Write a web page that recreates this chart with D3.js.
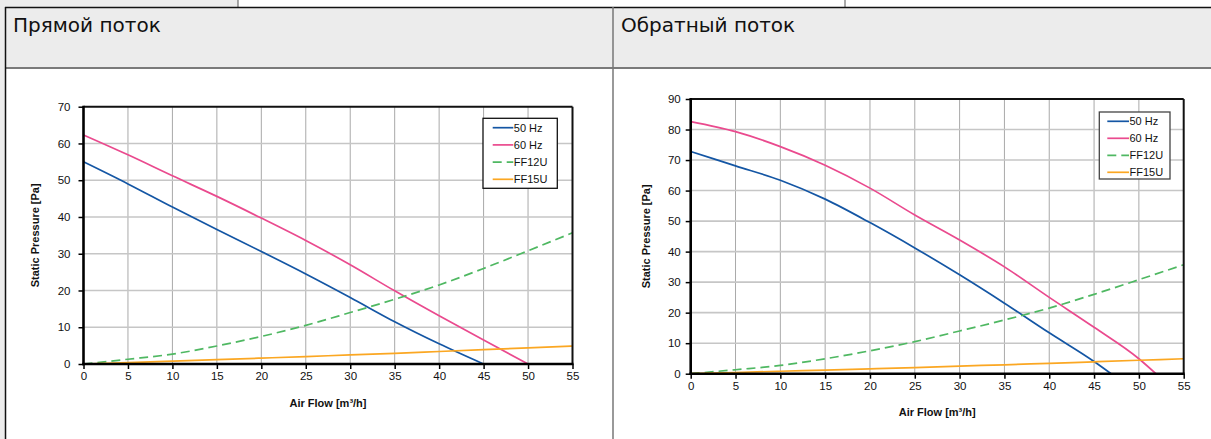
<!DOCTYPE html>
<html>
<head>
<meta charset="utf-8">
<script src="https://cdn.jsdelivr.net/npm/d3@7"></script>
<style>
  html, body { margin: 0; padding: 0; background: #fff; }
  svg { display: block; }
  .chart-text { font-family: "Liberation Sans", Arial, sans-serif; fill: #111; }
  .head-text { font-family: "DejaVu Sans", Tahoma, sans-serif; fill: #111; }
</style>
</head>
<body>
<svg id="page" width="1211" height="439"></svg>
<script>
// ---- data --------------------------------------------------------------
const panelTitles = ["Прямой поток", "Обратный поток"];
const seriesNames = ["50 Hz", "60 Hz", "FF12U", "FF15U"];
const flowTicks = [0, 5, 10, 15, 20, 25, 30, 35, 40, 45, 50, 55];
const pressureTicksForward = [0, 10, 20, 30, 40, 50, 60, 70];
const pressureTicksReverse = [0, 10, 20, 30, 40, 50, 60, 70, 80, 90];

// forward flow fan curves
const fwdFlow50 = [0, 5, 10, 15, 20, 25, 30, 35, 40, 45];
const fwdPres50 = [55, 49, 42.7, 36.6, 30.6, 24.5, 18.1, 11.5, 5.5, 0];
const fwdFlow60 = [0, 5, 10, 15, 20, 25, 30, 35, 40, 45, 50];
const fwdPres60 = [62.3, 56.9, 51.2, 45.6, 39.7, 33.6, 27.0, 19.9, 13.1, 6.5, 0];

// reverse flow fan curves
const revFlow50 = [0, 5, 10, 15, 20, 25, 30, 35, 40, 45, 46.9];
const revPres50 = [72.8, 68.1, 63.4, 57.2, 49.5, 41.2, 32.4, 23.1, 13.4, 4.0, 0];
const revFlow60 = [0, 5, 10, 15, 20, 25, 30, 35, 40, 45, 50, 51.9];
const revPres60 = [82.6, 79.3, 74.4, 68.3, 60.8, 52.0, 43.8, 35.0, 25.0, 15.2, 4.9, 0];

// filter resistance curves (same on both panels)
const filterFlow = [0, 5, 10, 15, 20, 25, 30, 35, 40, 45, 50, 55];
const ff12uPres = [0, 1.3, 2.7, 4.9, 7.5, 10.5, 14.0, 17.6, 21.5, 26.0, 30.8, 35.7];
const ff15uPres = [0, 0.4, 0.8, 1.2, 1.6, 2.0, 2.5, 2.9, 3.4, 3.9, 4.4, 4.9];

// ---- styles ------------------------------------------------------------
const seriesStyle = [
  { color: "#1456a4", dash: null },
  { color: "#ea4a8e", dash: null },
  { color: "#4fb862", dash: "9,5" },
  { color: "#fba722", dash: null }
];

const svg = d3.select("#page");

// ---- page frame (table around the two charts) ---------------------------
svg.append("rect").attr("x", 0).attr("y", 0).attr("width", 238).attr("height", 7).attr("fill", "#ececec");
svg.append("rect").attr("x", 0).attr("y", 0).attr("width", 5).attr("height", 439).attr("fill", "#ececec");
svg.append("rect").attr("x", 5).attr("y", 7).attr("width", 1206).attr("height", 61).attr("fill", "#ececec");
svg.append("line").attr("x1", 238).attr("x2", 238).attr("y1", 0).attr("y2", 7).attr("stroke", "#555").attr("stroke-width", 1);
svg.append("line").attr("x1", 845).attr("x2", 845).attr("y1", 0).attr("y2", 7).attr("stroke", "#555").attr("stroke-width", 1);
svg.append("line").attr("x1", 5).attr("x2", 1211).attr("y1", 7.5).attr("y2", 7.5).attr("stroke", "#111").attr("stroke-width", 1.5);
svg.append("line").attr("x1", 5).attr("x2", 1211).attr("y1", 68).attr("y2", 68).attr("stroke", "#7a7a7a").attr("stroke-width", 2);
svg.append("line").attr("x1", 5.5).attr("x2", 5.5).attr("y1", 7).attr("y2", 439).attr("stroke", "#111").attr("stroke-width", 1.5);
svg.append("line").attr("x1", 613).attr("x2", 613).attr("y1", 7).attr("y2", 439).attr("stroke", "#777").attr("stroke-width", 1.5);

svg.append("text").attr("class", "head-text").attr("x", 13).attr("y", 32)
  .attr("font-size", 20).text(panelTitles[0]);
svg.append("text").attr("class", "head-text").attr("x", 621).attr("y", 32)
  .attr("font-size", 20).text(panelTitles[1]);

// ---- chart drawing -----------------------------------------------------
function drawChart(cfg, curves, yTicks) {
  const g = svg.append("g");
  const x = d3.scaleLinear().domain([0, 55]).range([cfg.left, cfg.right]);
  const y = d3.scaleLinear().domain([0, yTicks[yTicks.length - 1]]).range([cfg.bottom, cfg.top]);

  // grid
  g.append("g").selectAll("line").data(flowTicks.slice(1, -1)).join("line")
    .attr("x1", d => x(d)).attr("x2", d => x(d))
    .attr("y1", cfg.top).attr("y2", cfg.bottom)
    .attr("stroke", "#a9a9a9").attr("stroke-width", 1);
  g.append("g").selectAll("line").data(yTicks.slice(1, -1)).join("line")
    .attr("x1", cfg.left).attr("x2", cfg.right)
    .attr("y1", d => y(d)).attr("y2", d => y(d))
    .attr("stroke", "#c6c6c6").attr("stroke-width", 1.6);

  // curves
  const line = d3.line().x(d => x(d[0])).y(d => y(d[1])).curve(d3.curveMonotoneX);
  curves.forEach((c, i) => {
    const pts = c.flow.map((f, k) => [f, c.pres[k]]);
    g.append("path").datum(pts).attr("d", line)
      .attr("fill", "none")
      .attr("stroke", seriesStyle[i].color)
      .attr("stroke-width", 1.7)
      .attr("stroke-dasharray", seriesStyle[i].dash);
  });

  // frame
  g.append("line").attr("x1", cfg.left).attr("x2", cfg.right).attr("y1", cfg.top).attr("y2", cfg.top)
    .attr("stroke", "#111").attr("stroke-width", 2);
  g.append("line").attr("x1", cfg.right).attr("x2", cfg.right).attr("y1", cfg.top).attr("y2", cfg.bottom)
    .attr("stroke", "#111").attr("stroke-width", 2);

  // axes
  const xAxis = d3.axisBottom(x).tickValues(flowTicks).tickSize(5).tickSizeOuter(0).tickPadding(3);
  const yAxis = d3.axisLeft(y).tickValues(yTicks).tickSize(5).tickSizeOuter(0).tickPadding(cfg.yPad);
  const gx = g.append("g").attr("transform", `translate(0,${cfg.bottom})`).call(xAxis);
  const gy = g.append("g").attr("transform", `translate(${cfg.left},0)`).call(yAxis);
  [gx, gy].forEach(ax => {
    ax.select(".domain").attr("stroke", "#000").attr("stroke-width", 2.6);
    ax.selectAll(".tick line").attr("stroke", "#000").attr("stroke-width", 1.5);
    ax.selectAll(".tick text").attr("class", "chart-text")
      .attr("font-size", 11.5).attr("fill", "#111");
  });
  gx.select(".domain").attr("d", `M${cfg.left - 1.3},0H${cfg.right + 1}`);
  gy.select(".domain").attr("d", `M0,${cfg.bottom + 1.3}V${cfg.top - 1}`);

  // axis titles
  g.append("text").attr("class", "chart-text")
    .attr("x", (cfg.left + cfg.right) / 2).attr("y", cfg.xTitleY)
    .attr("text-anchor", "middle").attr("font-size", 11).attr("font-weight", "bold")
    .text("Air Flow [m³/h]");
  g.append("text").attr("class", "chart-text")
    .attr("transform", `translate(${cfg.yTitleX},${(cfg.top + cfg.bottom) / 2}) rotate(-90)`)
    .attr("text-anchor", "middle").attr("font-size", 11).attr("font-weight", "bold")
    .text("Static Pressure [Pa]");

  // legend
  const lg = g.append("g").attr("transform", `translate(${cfg.legX},${cfg.legY})`);
  lg.append("rect").attr("x", 0).attr("y", 0).attr("width", cfg.legW).attr("height", cfg.legH)
    .attr("fill", "#fff").attr("stroke", cfg.legStroke).attr("stroke-width", 1.3);
  seriesNames.forEach((name, i) => {
    const ry = cfg.legRow0 + i * cfg.legStep;
    lg.append("line").attr("x1", cfg.legLine0).attr("x2", cfg.legLine1).attr("y1", ry).attr("y2", ry)
      .attr("stroke", seriesStyle[i].color).attr("stroke-width", 1.7)
      .attr("stroke-dasharray", seriesStyle[i].dash);
    lg.append("text").attr("class", "chart-text").attr("x", cfg.legLine1 + 0.5).attr("y", ry + 4)
      .attr("font-size", 11).text(name);
  });
}

drawChart(
  { left: 83.5, right: 572.5, top: 106.7, bottom: 364, yPad: 8, xTitleY: 406.5, yTitleX: 39,
    legX: 483, legY: 118.3, legW: 74.3, legH: 70, legRow0: 9.4, legStep: 17.2,
    legLine0: 9.7, legLine1: 30.3, legStroke: "#111" },
  [
    { flow: fwdFlow50, pres: fwdPres50 },
    { flow: fwdFlow60, pres: fwdPres60 },
    { flow: filterFlow, pres: ff12uPres },
    { flow: filterFlow, pres: ff15uPres }
  ],
  pressureTicksForward
);

drawChart(
  { left: 690.7, right: 1183.7, top: 99, bottom: 373.7, yPad: 5, xTitleY: 415.5, yTitleX: 650,
    legX: 1099.3, legY: 112, legW: 70.7, legH: 67, legRow0: 9.3, legStep: 17,
    legLine0: 8, legLine1: 29.7, legStroke: "#444" },
  [
    { flow: revFlow50, pres: revPres50 },
    { flow: revFlow60, pres: revPres60 },
    { flow: filterFlow, pres: ff12uPres },
    { flow: filterFlow, pres: ff15uPres }
  ],
  pressureTicksReverse
);
</script>
</body>
</html>
